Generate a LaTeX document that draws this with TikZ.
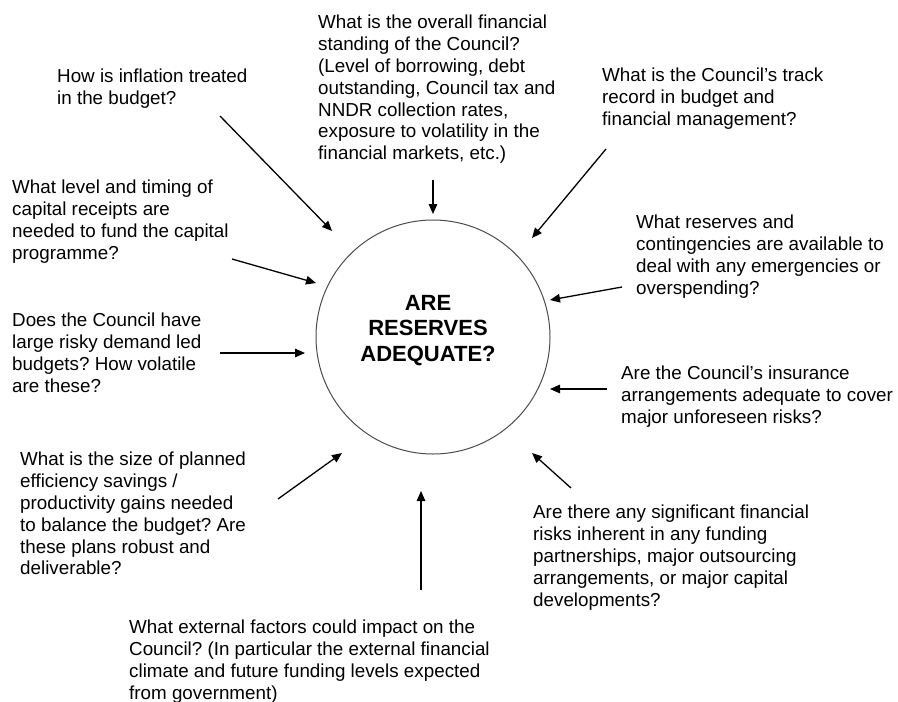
\documentclass[tikz,border=0pt]{standalone}
\usepackage{fontspec}
\setmainfont{Liberation Sans}
\usetikzlibrary{arrows.meta}
\frenchspacing
\begin{document}
\begin{tikzpicture}[x=1pt,y=-1pt,
  q/.style={anchor=north west,inner sep=0pt,align=left,font=\fontsize{18.8pt}{21.8pt}\selectfont},
  ctr/.style={anchor=north,inner sep=0pt,align=center,font=\fontsize{22pt}{25.5pt}\selectfont\bfseries},
  arr/.style={line width=1.3pt,-{Triangle[length=10pt,width=8.5pt]}},
  ring/.style={draw=black!70,line width=1pt,circle,minimum size=234pt,inner sep=0pt}]
\useasboundingbox (0,0) rectangle (898,702);
\fill[white] (0,0) rectangle (898,702);
\node[ring] (c) at (433,337) {};
\node[ctr] (ct) at (428,295) {ARE\\RESERVES\\ADEQUATE?};
\node[q] (top) at (318,15) {What is the overall financial\\standing of the Council?\\(Level of borrowing, debt\\outstanding, Council tax and\\NNDR collection rates,\\exposure to volatility in the\\financial markets, etc.)};
\node[q] (infl) at (57,69) {How is inflation treated\\in the budget?};
\node[q] (track) at (602,68) {What is the Council’s track\\record in budget and\\financial management?};
\node[q] (cap) at (12,180) {What level and timing of\\capital receipts are\\needed to fund the capital\\programme?};
\node[q] (res) at (636,215) {What reserves and\\contingencies are available to\\deal with any emergencies or\\overspending?};
\node[q] (dem) at (12,313) {Does the Council have\\large risky demand led\\budgets? How volatile\\are these?};
\node[q] (ins) at (621,366) {Are the Council’s insurance\\arrangements adequate to cover\\major unforeseen risks?};
\node[q] (eff) at (20,452) {What is the size of planned\\efficiency savings /\\productivity gains needed\\to balance the budget? Are\\these plans robust and\\deliverable?};
\node[q] (fund) at (533,505) {Are there any significant financial\\risks inherent in any funding\\partnerships, major outsourcing\\arrangements, or major capital\\developments?};
\node[q] (ext) at (129,620) {What external factors could impact on the\\Council? (In particular the external financial\\climate and future funding levels expected\\from government)};
% arrow ends
\coordinate (a1s) at (220,116); \coordinate (a1e) at (332,231);
\coordinate (a2s) at (433,180); \coordinate (a2e) at (433,214);
\coordinate (a3s) at (606,149); \coordinate (a3e) at (532,238);
\coordinate (a4s) at (232,259); \coordinate (a4e) at (316,283);
\coordinate (a5s) at (622,287); \coordinate (a5e) at (550,300);
\coordinate (a6s) at (220,353); \coordinate (a6e) at (305,353);
\coordinate (a7s) at (607,389); \coordinate (a7e) at (550,389);
\coordinate (a8s) at (278,499); \coordinate (a8e) at (342,453);
\coordinate (a9s) at (421,590); \coordinate (a9e) at (421,491);
\coordinate (a10s) at (571,488); \coordinate (a10e) at (532,453);
\foreach \i in {1,...,10} \draw[arr] (a\i s) -- (a\i e);
\end{tikzpicture}
\end{document}
